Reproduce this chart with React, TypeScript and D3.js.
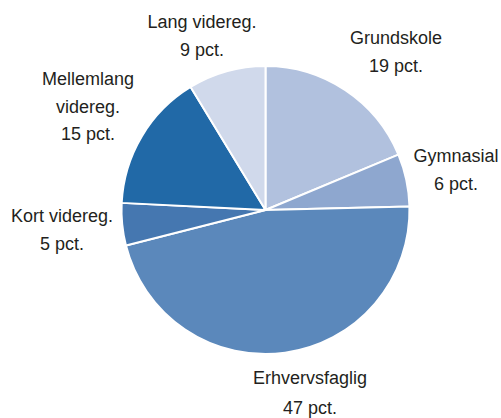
import React from "react";
import * as d3 from "d3";

const categories = ["Grundskole", "Gymnasial", "Erhvervsfaglig", "Kort videreg.", "Mellemlang videreg.", "Lang videreg."];
const values = [18.7, 5.9, 46.4, 4.75, 15.5, 8.7];
const colors = ["#b1c1de", "#8ea7cf", "#5b88bb", "#4577b0", "#2169a7", "#d0d9eb"];
const labelLines = [
  ["Grundskole", "19 pct."],
  ["Gymnasial", "6 pct."],
  ["Erhvervsfaglig", "47 pct."],
  ["Kort videreg.", "5 pct."],
  ["Mellemlang", "videreg.", "15 pct."],
  ["Lang videreg.", "9 pct."],
];
// label anchor positions (center x, first baseline y)
const labelPos: [number, number][] = [
  [396, 44],
  [456, 162],
  [310, 384],
  [62, 222],
  [88, 85],
  [202, 28],
];
const lineGap = [28, 28, 30, 28, 27.5, 28];

export default function App() {
  const width = 501;
  const height = 418;
  const cx = 265.5;
  const cy = 210;
  const r = 144;
  const pie = d3.pie<number>().sort(null).value((d) => d);
  const arcs = pie(values);
  const arc = d3.arc<d3.PieArcDatum<number>>().innerRadius(0).outerRadius(r);
  return (
    <svg width={width} height={height} style={{ position: "absolute", left: 0, top: 0, background: "#fff" }}>
      <g transform={`translate(${cx},${cy})`}>
        {arcs.map((a, i) => (
          <path key={i} d={arc(a) || ""} fill={colors[i]} stroke="#fff" strokeWidth={2} strokeLinejoin="round" />
        ))}
      </g>
      {labelLines.map((lines, i) => (
        <text
          key={i}
          x={labelPos[i][0]}
          y={labelPos[i][1]}
          textAnchor="middle"
          fontFamily="'Liberation Sans', Arial, sans-serif"
          fontSize={18}
          fill="#231f20"
        >
          {lines.map((l, j) => (
            <tspan key={j} x={labelPos[i][0]} dy={j === 0 ? 0 : lineGap[i]}>
              {l}
            </tspan>
          ))}
        </text>
      ))}
    </svg>
  );
}
